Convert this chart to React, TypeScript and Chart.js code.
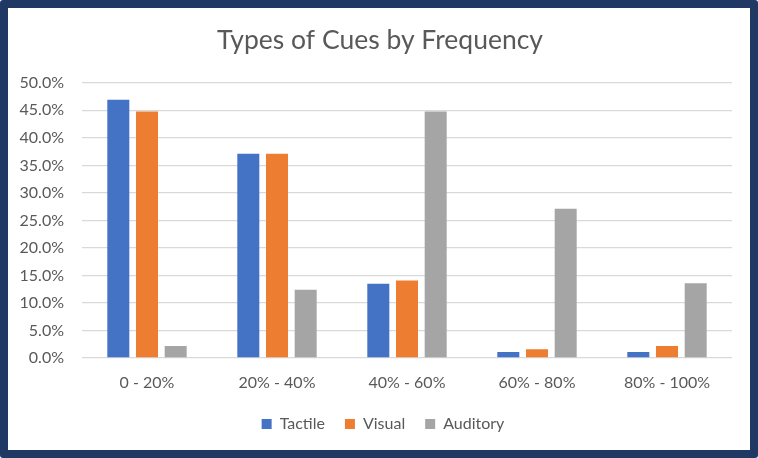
import React, { useEffect, useRef } from "react";
import { Chart, registerables } from "chart.js";

Chart.register(...registerables);

const categories = ["0 - 20%", "20% - 40%", "40% - 60%", "60% - 80%", "80% - 100%"];
const tactile = [46.9, 37.1, 13.5, 1.1, 1.1];
const visual = [44.8, 37.1, 14.1, 1.6, 2.2];
const auditory = [2.2, 12.4, 44.8, 27.1, 13.6];
const yTicks = [0, 5, 10, 15, 20, 25, 30, 35, 40, 45, 50];

const recenter = {
  id: "recenter",
  afterLayout(chart: any) {
    const tb = chart.titleBlock;
    if (tb) { tb.left = 0; tb.right = 744; tb.width = 744; }
    const lg = chart.legend;
    if (lg) { lg.left = 8; lg.right = 742; lg.width = 734; }
  },
};

export default function App() {
  const ref = useRef<HTMLCanvasElement | null>(null);

  useEffect(() => {
    document.body.style.margin = "0";
    const canvas = ref.current;
    if (!canvas) return;
    const font = "Lato, 'Open Sans', sans-serif";
    const chart = new Chart(canvas, {
      type: "bar",
      data: {
        labels: categories,
        datasets: [
          { label: "Tactile", data: tactile, backgroundColor: "#4472C4" },
          { label: "Visual", data: visual, backgroundColor: "#ED7D31" },
          { label: "Auditory", data: auditory, backgroundColor: "#A5A5A5" },
        ],
      },
      plugins: [recenter],
      options: {
        animation: false,
        responsive: false,
        maintainAspectRatio: false,
        datasets: { bar: { categoryPercentage: 0.662, barPercentage: 0.767 } },
        layout: { padding: { left: 0, right: 18, top: 10, bottom: 8 } },
        plugins: {
          title: {
            display: true,
            text: "Types of Cues by Frequency",
            color: "#595959",
            font: { family: font, size: 26.5, weight: "normal" },
            padding: { top: 7, bottom: 26 },
          },
          legend: {
            position: "bottom",
            labels: {
              boxWidth: 10,
              boxHeight: 10,
              padding: 20,
              color: "#595959",
              font: { family: font, size: 16 },
            },
          },
          tooltip: { enabled: false },
        },
        scales: {
          x: {
            grid: { display: false },
            border: { display: false },
            ticks: { color: "#595959", font: { family: font, size: 16 }, padding: 7 },
            afterFit: (s: any) => { s.height = 38; },
          },
          y: {
            min: 0,
            max: 50,
            afterBuildTicks: (s: any) => { s.ticks = yTicks.map((v) => ({ value: v })); },
            grid: { color: "#D9D9D9", lineWidth: 1.3, drawTicks: false },
            border: { display: false },
            ticks: {
              color: "#595959",
              font: { family: font, size: 16 },
              padding: 18,
              callback: (v: any) => Number(v).toFixed(1) + "%",
            },
            afterFit: (s: any) => { s.width = 74; },
          },
        },
      },
    });
    return () => chart.destroy();
  }, []);

  return (
    <div
      style={{
        position: "fixed",
        left: 0,
        top: 0,
        width: 758,
        height: 458,
        boxSizing: "border-box",
        border: "8px solid #1F3864",
        borderRadius: 3,
        background: "#FFFFFF",
        overflow: "hidden",
      }}
    >
      <canvas ref={ref} width={742} height={442} style={{ display: "block", width: 742, height: 442 }} />
    </div>
  );
}
